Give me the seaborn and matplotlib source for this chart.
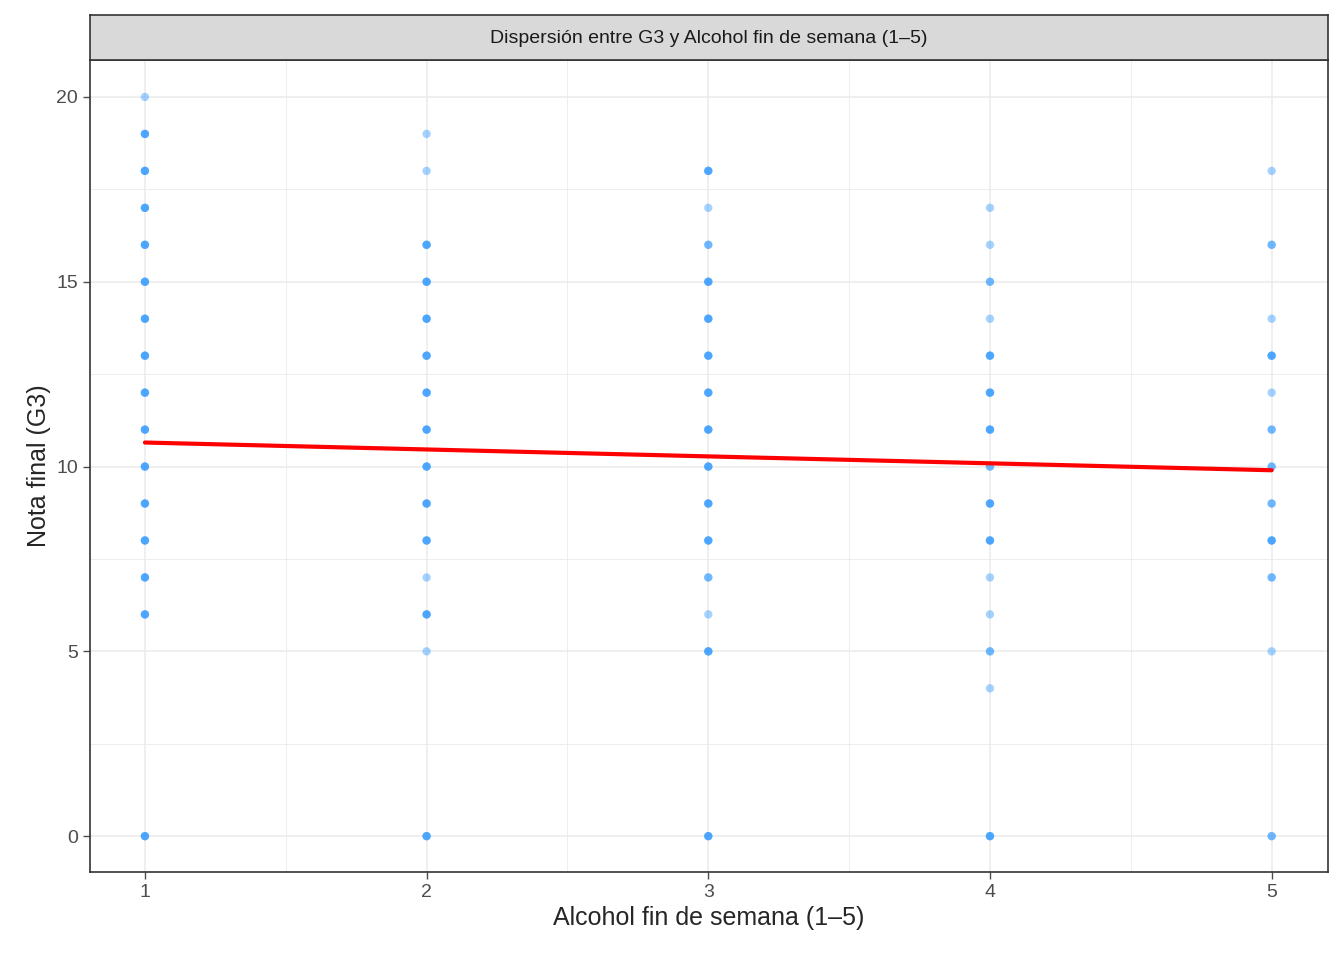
import matplotlib
matplotlib.use("Agg")
import matplotlib.pyplot as plt
import seaborn as sns
import pandas as pd

sns.set_style("white")
plt.rcParams['font.family'] = ['Liberation Sans', 'DejaVu Sans']

# values of G3 seen at each level of weekend alcohol, with rough counts (from opacity)
x_levels = [1, 2, 3, 4, 5]
g3_values = {
    1: [0, 6, 7, 8, 9, 10, 11, 12, 13, 14, 15, 16, 17, 18, 19, 20],
    2: [0, 5, 6, 7, 8, 9, 10, 11, 12, 13, 14, 15, 16, 18, 19],
    3: [0, 5, 6, 7, 8, 9, 10, 11, 12, 13, 14, 15, 16, 17, 18],
    4: [0, 4, 5, 6, 7, 8, 9, 10, 11, 12, 13, 14, 15, 16, 17],
    5: [0, 5, 7, 8, 9, 10, 11, 12, 13, 14, 16, 18],
}
g3_counts = {
    1: [3, 3, 3, 3, 3, 3, 3, 3, 3, 3, 3, 3, 3, 3, 3, 1],
    2: [3, 1, 3, 1, 3, 3, 3, 3, 3, 3, 3, 3, 3, 1, 1],
    3: [3, 3, 1, 2, 3, 3, 3, 3, 3, 3, 3, 3, 2, 1, 3],
    4: [3, 1, 2, 1, 1, 3, 3, 2, 3, 3, 3, 1, 2, 1, 1],
    5: [2, 1, 2, 3, 2, 2, 2, 1, 3, 1, 2, 1],
}
# linear fit line (lm) endpoints
fit_x = [1, 5]
fit_y = [10.65, 9.9]

rows = []
for xv in x_levels:
    for yv, c in zip(g3_values[xv], g3_counts[xv]):
        rows += [(xv, yv)] * c
df = pd.DataFrame(rows, columns=["walc", "G3"])

fig = plt.figure(figsize=(13.44, 9.6), dpi=100)
ax = fig.add_axes([90/1344, 1 - 872/960, 1238/1344, 812/960])
strip = fig.add_axes([90/1344, 1 - 60/960, 1238/1344, 45/960])

sns.scatterplot(data=df, x="walc", y="G3", ax=ax, color="#1E90FF", alpha=0.4,
                s=36, edgecolor="none", zorder=3)
sns.lineplot(x=fit_x, y=fit_y, ax=ax, color="red", linewidth=3, zorder=4)

ax.set_xlim(0.805, 5.2)
ax.set_ylim(-0.97, 21.0)
ax.set_xticks([1, 2, 3, 4, 5])
ax.set_yticks([0, 5, 10, 15, 20])
ax.set_xticks([1.5, 2.5, 3.5, 4.5], minor=True)
ax.set_yticks([2.5, 7.5, 12.5, 17.5], minor=True)
ax.grid(True, which="major", color="#EBEBEB", linewidth=1.1)
ax.grid(True, which="minor", color="#EBEBEB", linewidth=0.6)
ax.set_axisbelow(True)
ax.tick_params(axis="both", which="major", labelsize=14, colors="#4D4D4D",
               length=5, width=1, left=True, bottom=True, labelcolor="#4D4D4D")
ax.tick_params(which="minor", length=0)
for sp in ax.spines.values():
    sp.set_color("#333333")
    sp.set_linewidth(1.2)
ax.set_xlabel("Alcohol fin de semana (1–5)", fontsize=18)
ax.set_ylabel("Nota final (G3)", fontsize=18)

strip.set_facecolor("#D9D9D9")
strip.set_xticks([])
strip.set_yticks([])
for sp in strip.spines.values():
    sp.set_color("#333333")
    sp.set_linewidth(1.2)
strip.text(0.5, 0.47, "Dispersión entre G3 y Alcohol fin de semana (1–5)",
           ha="center", va="center", fontsize=14, color="#1A1A1A",
           transform=strip.transAxes)

fig.savefig("out.png", dpi=100)
